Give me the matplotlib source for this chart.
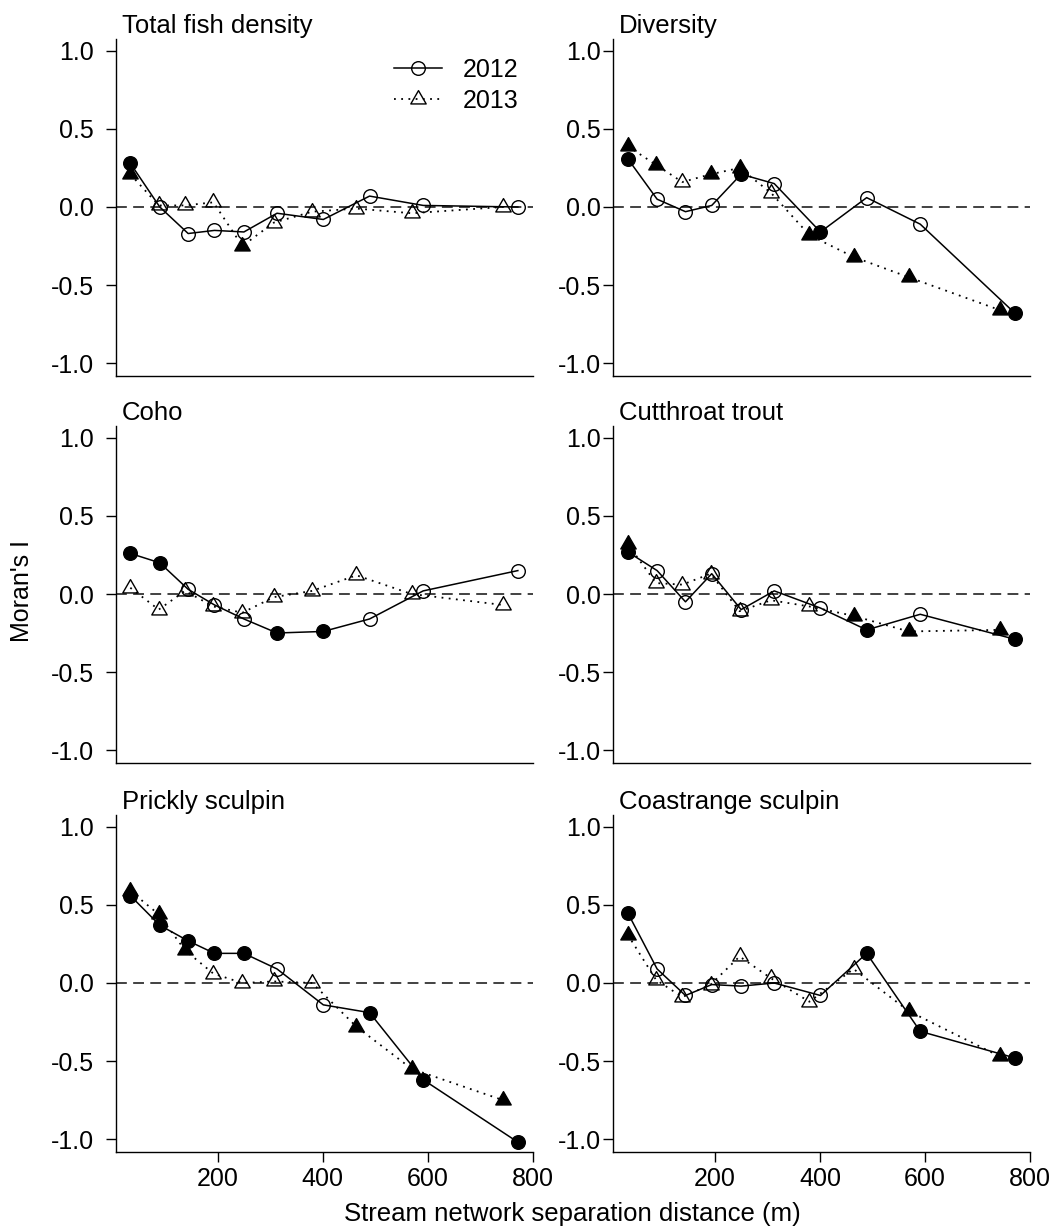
import matplotlib.pyplot as plt
from matplotlib.path import Path

plt.rcParams["font.family"] = ["Liberation Sans", "DejaVu Sans"]
plt.rcParams["font.size"] = 18

# separation distance classes (m)
x2012 = [34, 90, 144, 194, 250, 313, 401, 489, 591, 771]
x2013 = [34, 88, 138, 192, 247, 307, 380, 464, 569, 742]

titles = ["Total fish density", "Diversity", "Coho", "Cutthroat trout",
          "Prickly sculpin", "Coastrange sculpin"]

# Moran's I values, filled = significant
density_2012 = [0.28, 0.00, -0.17, -0.15, -0.16, -0.04, -0.08, 0.07, 0.01, 0.00]
density_2012_sig = [1, 0, 0, 0, 0, 0, 0, 0, 0, 0]
density_2013 = [0.21, 0.01, 0.01, 0.03, -0.25, -0.10, -0.03, -0.01, -0.04, 0.00]
density_2013_sig = [1, 0, 0, 0, 1, 0, 0, 0, 0, 0]

diversity_2012 = [0.31, 0.05, -0.03, 0.01, 0.21, 0.15, -0.16, 0.06, -0.11, -0.68]
diversity_2012_sig = [1, 0, 0, 0, 1, 0, 1, 0, 0, 1]
diversity_2013 = [0.39, 0.27, 0.16, 0.21, 0.25, 0.09, -0.18, -0.32, -0.45, -0.66]
diversity_2013_sig = [1, 1, 0, 1, 1, 0, 1, 1, 1, 1]

coho_2012 = [0.26, 0.20, 0.03, -0.07, -0.16, -0.25, -0.24, -0.16, 0.02, 0.15]
coho_2012_sig = [1, 1, 0, 0, 0, 1, 1, 0, 0, 0]
coho_2013 = [0.04, -0.10, 0.02, -0.08, -0.12, -0.02, 0.02, 0.12, 0.00, -0.07]
coho_2013_sig = [0, 0, 0, 0, 0, 0, 0, 0, 0, 0]

cutthroat_2012 = [0.27, 0.15, -0.05, 0.13, -0.10, 0.02, -0.09, -0.23, -0.13, -0.29]
cutthroat_2012_sig = [1, 0, 0, 0, 0, 0, 0, 1, 0, 1]
cutthroat_2013 = [0.32, 0.07, 0.06, 0.13, -0.11, -0.04, -0.08, -0.14, -0.24, -0.23]
cutthroat_2013_sig = [1, 0, 0, 0, 0, 0, 0, 1, 1, 1]

prickly_2012 = [0.56, 0.37, 0.27, 0.19, 0.19, 0.09, -0.14, -0.19, -0.62, -1.02]
prickly_2012_sig = [1, 1, 1, 1, 1, 0, 0, 1, 1, 1]
prickly_2013 = [0.59, 0.44, 0.21, 0.06, 0.00, 0.01, 0.00, -0.28, -0.55, -0.75]
prickly_2013_sig = [1, 1, 1, 0, 0, 0, 0, 1, 1, 1]

coastrange_2012 = [0.45, 0.09, -0.08, -0.01, -0.02, 0.00, -0.08, 0.19, -0.31, -0.48]
coastrange_2012_sig = [1, 0, 0, 0, 0, 0, 0, 1, 1, 1]
coastrange_2013 = [0.31, 0.02, -0.09, -0.01, 0.17, 0.03, -0.12, 0.09, -0.18, -0.47]
coastrange_2013_sig = [1, 0, 0, 0, 0, 0, 0, 0, 1, 1]

panels = [
    (density_2012, density_2012_sig, density_2013, density_2013_sig),
    (diversity_2012, diversity_2012_sig, diversity_2013, diversity_2013_sig),
    (coho_2012, coho_2012_sig, coho_2013, coho_2013_sig),
    (cutthroat_2012, cutthroat_2012_sig, cutthroat_2013, cutthroat_2013_sig),
    (prickly_2012, prickly_2012_sig, prickly_2013, prickly_2013_sig),
    (coastrange_2012, coastrange_2012_sig, coastrange_2013, coastrange_2013_sig),
]

# R-like triangle centred on its centroid
tri = Path([(0, 1), (-0.866, -0.5), (0.866, -0.5), (0, 1)],
           [Path.MOVETO, Path.LINETO, Path.LINETO, Path.CLOSEPOLY])

W, H = 1054, 1226
fig = plt.figure(figsize=(W / 100, H / 100), dpi=100)

lefts = [115.6, 613.0]
widths = [417.5, 417.0]
tops = [38.5, 425.5, 814.5]
ax_h = 337.0

circ_ms = 9.8
tri_ms = 12.8
dots = (0, (1, 3))

for i, (y12, s12, y13, s13) in enumerate(panels):
    row, col = divmod(i, 2)
    ax = fig.add_axes([lefts[col] / W, 1 - (tops[row] + ax_h) / H,
                       widths[col] / W, ax_h / H])

    ax.axhline(0, color="0.2", linestyle=(0, (6, 3.5)), linewidth=1.3, zorder=1)

    ax.plot(x2012, y12, color="black", linewidth=1.1, zorder=2)
    ax.plot(x2013, y13, color="black", linewidth=1.3, linestyle=dots, zorder=2)

    for xv, yv, s in zip(x2012, y12, s12):
        ax.plot(xv, yv, marker="o", markersize=circ_ms, markeredgecolor="black",
                markerfacecolor="black" if s else "none", markeredgewidth=1.0,
                linestyle="none", zorder=3)
    for xv, yv, s in zip(x2013, y13, s13):
        ax.plot(xv, yv, marker=tri, markersize=tri_ms, markeredgecolor="black",
                markerfacecolor="black" if s else "none", markeredgewidth=1.0,
                linestyle="none", zorder=3)

    ax.set_xlim(6, 800)
    ax.set_ylim(-1.08, 1.08)
    ax.set_yticks([-1.0, -0.5, 0.0, 0.5, 1.0])
    ax.set_yticklabels(["-1.0", "-0.5", "0.0", "0.5", "1.0"])
    ax.spines["top"].set_visible(False)
    ax.spines["right"].set_visible(False)
    ax.spines["left"].set_linewidth(1.0)
    ax.spines["bottom"].set_linewidth(1.0)
    ax.tick_params(axis="y", length=7, width=1.0, pad=8.5 if col == 0 else 1.5)
    if row == 2:
        ax.set_xticks([200, 400, 600, 800])
        ax.tick_params(axis="x", length=7, width=1.0, pad=4)
    else:
        ax.set_xticks([])

    ax.text(0.015, 1.015, titles[i], transform=ax.transAxes, ha="left",
            va="baseline", fontsize=18.5)

    if i == 0:
        h12, = ax.plot([], [], color="black", linewidth=1.1, marker="o", markersize=circ_ms,
                       markerfacecolor="none", markeredgecolor="black")
        h13, = ax.plot([], [], color="black", linewidth=1.3, linestyle=dots,
                       marker=tri, markersize=tri_ms, markerfacecolor="none",
                       markeredgecolor="black")
        ax.legend([h12, h13], ["2012", "2013"], loc="upper left",
                  bbox_to_anchor=(0.668, 0.942), frameon=False, borderpad=0,
                  borderaxespad=0, handlelength=1.9, handletextpad=0.85,
                  labelspacing=0.27)

fig.text(22 / W, 1 - 591 / H, "Moran's I", rotation=90, ha="center", va="center")
fig.text(572.5 / W, 1 - 1221 / H, "Stream network separation distance (m)",
         ha="center", va="baseline", fontsize=18.5)

fig.savefig("out.png", dpi=100)
